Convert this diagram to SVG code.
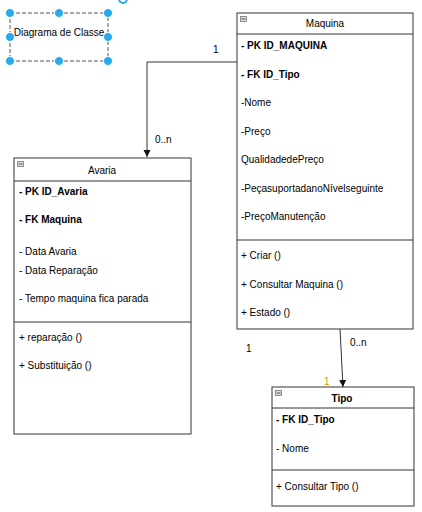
<svg xmlns="http://www.w3.org/2000/svg" width="422" height="512" viewBox="0 0 422 512">
<defs>
<style>
text{font-family:"Liberation Sans",Arial,sans-serif;font-size:10px;fill:#000}
.b{font-weight:bold}
.t{text-anchor:middle}
.box{fill:#fff;stroke:#333;stroke-width:1}
.ln{stroke:#333;stroke-width:1;fill:none}
.ic{fill:#ddd;stroke:#777;stroke-width:0.8}
.h{fill:#29aaec;stroke:#fff;stroke-width:1}
</style>
<marker id="arr" markerWidth="8" markerHeight="8" refX="7" refY="4" orient="auto" markerUnits="userSpaceOnUse">
<path d="M0,0.5 L7,4 L0,7.5 Z" fill="#111"/>
</marker>
</defs>
<rect width="422" height="512" fill="#fff"/>
<g id="diagrama">
<rect x="10" y="13" width="98" height="48" fill="none" stroke="#555" stroke-dasharray="4,2"/>
<text x="59" y="36" class="t">Diagrama de Classe</text>
<circle class="h" cx="10" cy="13" r="4.5"/><circle class="h" cx="59" cy="13" r="4.5"/><circle class="h" cx="108" cy="13" r="4.5"/>
<circle class="h" cx="10" cy="37" r="4.5"/><circle class="h" cx="108" cy="37" r="4.5"/>
<circle class="h" cx="10" cy="61" r="4.5"/><circle class="h" cx="59" cy="61" r="4.5"/><circle class="h" cx="108" cy="61" r="4.5"/>
<circle cx="123" cy="-1" r="4" fill="none" stroke="#29aaec" stroke-width="2"/>
</g>
<g id="connectors">
<path class="ln" d="M237,62 H147 V157" marker-end="url(#arr)"/>
<path class="ln" d="M340,329 L343,387" marker-end="url(#arr)"/>
<text x="213" y="53">1</text>
<text x="155" y="143">0..n</text>
<text x="350" y="346">0..n</text>
<text x="246" y="352">1</text>
<text x="324" y="385" style="fill:#d79b00">1</text>
</g>
<g id="maquina">
<rect class="box" x="237" y="13" width="176" height="316"/>
<line class="ln" x1="237" y1="34" x2="413" y2="34"/>
<line class="ln" x1="237" y1="240" x2="413" y2="240"/>
<rect class="ic" x="240.5" y="16.5" width="6" height="5"/><line x1="241.5" y1="19" x2="245.5" y2="19" stroke="#333" stroke-width="0.8"/>
<text x="325" y="27" class="t">Maquina</text>
<text x="241" y="49" class="b">- PK ID_MAQUINA</text>
<text x="241" y="78" class="b">- FK ID_Tipo</text>
<text x="241" y="106">-Nome</text>
<text x="241" y="135">-Preço</text>
<text x="241" y="163">QualidadedePreço</text>
<text x="241" y="192">-PeçasuportadanoNívelseguinte</text>
<text x="241" y="220">-PreçoManutenção</text>
<text x="241" y="259">+ Criar ()</text>
<text x="241" y="288">+ Consultar Maquina ()</text>
<text x="241" y="316">+ Estado ()</text>
</g>
<g id="avaria">
<rect class="box" x="14" y="158" width="177" height="276"/>
<line class="ln" x1="14" y1="181" x2="191" y2="181"/>
<line class="ln" x1="14" y1="322" x2="191" y2="322"/>
<rect class="ic" x="17.5" y="161.5" width="6" height="5"/><line x1="18.5" y1="164" x2="22.5" y2="164" stroke="#333" stroke-width="0.8"/>
<text x="102" y="174" class="t">Avaria</text>
<text x="19" y="195" class="b">- PK ID_Avaria</text>
<text x="19" y="223" class="b">- FK Maquina</text>
<text x="19" y="255">- Data Avaria</text>
<text x="19" y="274">- Data Reparação</text>
<text x="19" y="302">- Tempo maquina fica parada</text>
<text x="19" y="341">+ reparação ()</text>
<text x="19" y="369">+ Substituição ()</text>
</g>
<g id="tipo">
<rect class="box" x="272" y="387" width="142" height="119"/>
<line class="ln" x1="272" y1="408" x2="414" y2="408"/>
<line class="ln" x1="272" y1="470" x2="414" y2="470"/>
<rect class="ic" x="275.5" y="390.5" width="6" height="5"/><line x1="276.5" y1="393" x2="280.5" y2="393" stroke="#333" stroke-width="0.8"/>
<text x="342" y="402" class="t b">Tipo</text>
<text x="276" y="423" class="b">- FK ID_Tipo</text>
<text x="276" y="452">- Nome</text>
<text x="276" y="490">+ Consultar Tipo ()</text>
</g>
</svg>
